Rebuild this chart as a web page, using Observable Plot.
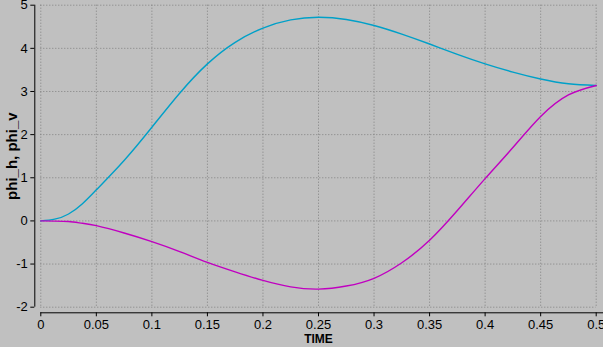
<!DOCTYPE html>
<html>
<head>
<meta charset="utf-8">
<script src="https://cdn.jsdelivr.net/npm/d3@7"></script>
<script src="https://cdn.jsdelivr.net/npm/@observablehq/plot@0.6"></script>
<style>
  html, body { margin: 0; padding: 0; background: #c0c0c0; overflow: hidden; }
  #chart svg { display: block; }
</style>
</head>
<body>
<div id="chart"></div>
<script>
const time   = [0, 0.0125, 0.025, 0.0375, 0.05, 0.075, 0.1, 0.125, 0.15, 0.175, 0.2, 0.225, 0.25, 0.275, 0.3, 0.325, 0.35, 0.375, 0.4, 0.425, 0.45, 0.475, 0.5];
const phi_h  = [0, 0.04, 0.16, 0.40, 0.72, 1.40, 2.17, 2.96, 3.64, 4.14, 4.47, 4.66, 4.72, 4.67, 4.53, 4.33, 4.10, 3.86, 3.64, 3.45, 3.29, 3.18, 3.14];
const phi_v  = [0, -0.004, -0.015, -0.055, -0.11, -0.28, -0.48, -0.71, -0.96, -1.18, -1.38, -1.53, -1.58, -1.51, -1.33, -0.97, -0.45, 0.24, 0.98, 1.70, 2.42, 2.92, 3.14];
const xTicks = [0, 0.05, 0.1, 0.15, 0.2, 0.25, 0.3, 0.35, 0.4, 0.45, 0.5];
const yTicks = [-2, -1, 0, 1, 2, 3, 4, 5];
const xLabel = "TIME";
const yLabel = "phi_h, phi_v";

const rowsH = time.map((t, i) => ({t, v: phi_h[i]}));
const rowsV = time.map((t, i) => ({t, v: phi_v[i]}));

const fmt = d => String(d);
const grid = {stroke: "#808080", strokeOpacity: 1, strokeDasharray: "1,2"};
const tickFont = "'Liberation Sans Narrow', 'Arial Narrow', 'Liberation Sans', Arial, sans-serif";

const chart = Plot.plot({
  width: 603,
  height: 347,
  marginLeft: 40.3,
  marginRight: 7.3,
  marginTop: 4.7,
  marginBottom: 40.3,
  style: {background: "#c0c0c0", fontFamily: "'Liberation Sans', Arial, sans-serif", fontSize: "12px", color: "black"},
  x: {domain: [0, 0.5]},
  y: {domain: [-2, 5]},
  marks: [
    Plot.gridX(xTicks, grid),
    Plot.gridY(yTicks, grid),
    Plot.ruleX([0], {y1: -2, y2: 5, dx: -6, stroke: "black"}),
    Plot.ruleY([-2], {x1: 0, x2: 0.5, dy: 5.6, insetRight: -8, stroke: "black"}),
    Plot.axisX(xTicks, {dy: 5.6, tickSize: 4, tickPadding: 3, tickFormat: fmt, label: null, stroke: "black", fill: "black", fontFamily: tickFont, fontSize: 13}),
    Plot.axisY(yTicks, {dx: -6, tickSize: 4, tickPadding: 3, tickFormat: fmt, label: null, stroke: "black", fill: "black", fontFamily: tickFont, fontSize: 13}),
    Plot.line(rowsH, {x: "t", y: "v", stroke: "#00a0c8", strokeWidth: 1.4, curve: "natural"}),
    Plot.line(rowsV, {x: "t", y: "v", stroke: "#c000c0", strokeWidth: 1.4, curve: "natural"}),
    Plot.text([xLabel], {frameAnchor: "bottom", lineAnchor: "middle", textAnchor: "middle", dy: 32, fontWeight: "bold", fontSize: 12, fill: "black"}),
    Plot.text([yLabel], {frameAnchor: "left", lineAnchor: "middle", textAnchor: "middle", dx: -29, rotate: -90, fontWeight: "bold", fontSize: 15, fill: "black"})
  ]
});
document.getElementById("chart").appendChild(chart);
</script>
</body>
</html>
